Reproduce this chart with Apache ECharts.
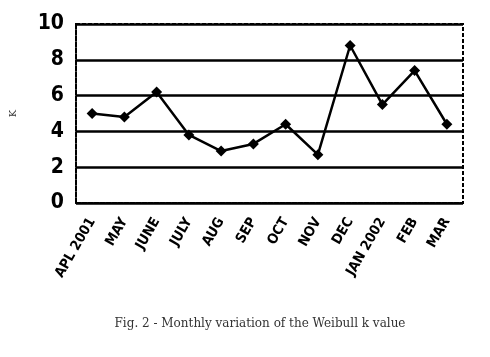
<!DOCTYPE html>
<html><head><meta charset="utf-8">
<script src="https://cdn.jsdelivr.net/npm/echarts@6/dist/echarts.min.js"></script>
<style>html,body{margin:0;padding:0;background:#fff}#c{width:490px;height:357px}</style>
</head><body><div id="c"></div>
<script>
var categories = ["APL 2001","MAY","JUNE","JULY","AUG","SEP","OCT","NOV","DEC","JAN 2002","FEB","MAR"];
var kValues = [5.0, 4.8, 6.2, 3.8, 2.9, 3.3, 4.4, 2.7, 8.8, 5.5, 7.4, 4.4];
var yTicks = [0, 2, 4, 6, 8, 10];

var chart = echarts.init(document.getElementById('c'), null, {renderer:'canvas'});
chart.setOption({
  animation:false,
  backgroundColor:'#fff',
  title:{
    text:'Fig. 2 - Monthly variation of the Weibull k value',
    left:255, top:313, textAlign:'center',
    textStyle:{fontFamily:'DejaVu Serif', fontWeight:'normal', fontSize:12, color:'#333'}
  },
  grid:{left:76, right:27, top:24, bottom:154},
  xAxis:{
    type:'category', data:categories, boundaryGap:true,
    axisLine:{show:true, lineStyle:{color:'#000', width:2, type:[4,2]}},
    axisTick:{show:false},
    axisLabel:{rotate:60, interval:0, fontFamily:'DejaVu Sans Condensed', fontWeight:'bold', fontSize:14, color:'#000', margin:16}
  },
  yAxis:{
    type:'value', min:0, max:10, interval:2,
    name:'K', nameLocation:'middle', nameGap:58, nameRotate:90,
    nameTextStyle:{fontFamily:'DejaVu Serif', fontSize:10, color:'#333'},
    axisLine:{show:true, lineStyle:{color:'#000', width:2, type:[4,2]}},
    axisTick:{show:false},
    axisLabel:{fontFamily:'DejaVu Sans Condensed', fontWeight:'bold', fontSize:21, color:'#000', margin:12,
      formatter:function(v){return yTicks.indexOf(v)>=0? String(v):'';}},
    splitLine:{show:true, lineStyle:{color:'#000', width:2.5}}
  },
  series:[
    {type:'line', data:kValues, symbol:'diamond', symbolSize:11,
     lineStyle:{color:'#000', width:2.5}, itemStyle:{color:'#000'}}
  ],
  graphic:[
    {type:'rect', shape:{x:76, y:24, width:387, height:179}, silent:true,
     style:{fill:'none', stroke:'#000', lineWidth:2, lineDash:[4,2]}, z:1}
  ]
});
</script></body></html>
